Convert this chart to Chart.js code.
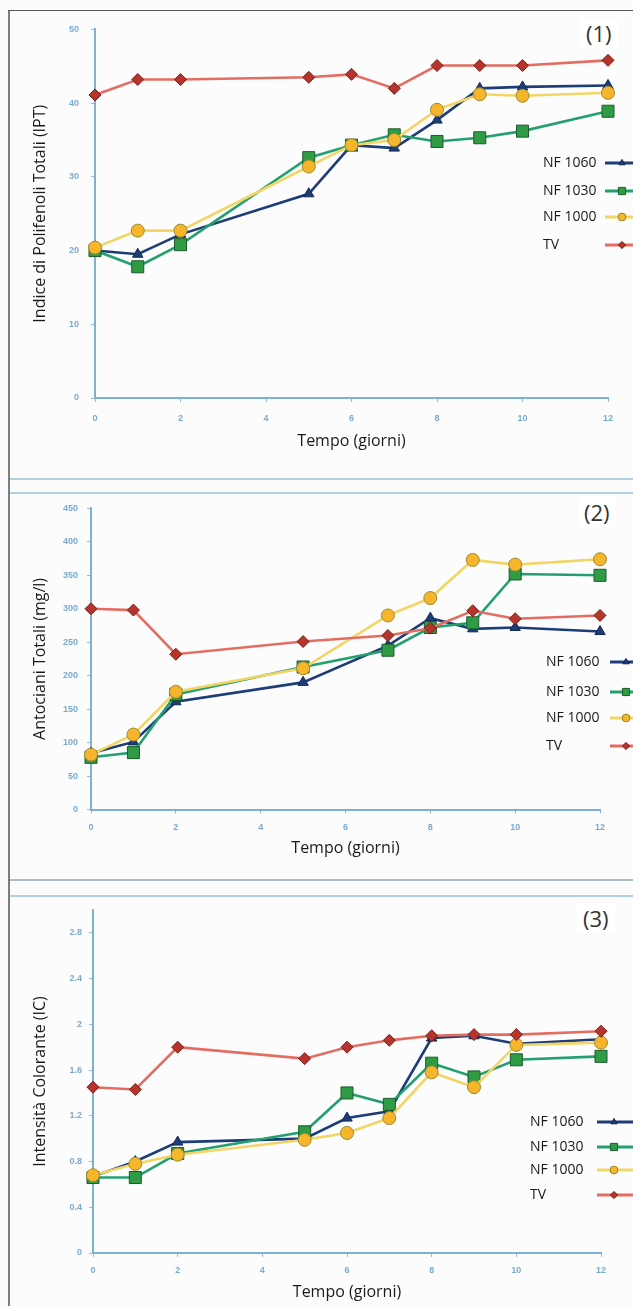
<!DOCTYPE html>
<html>
<head>
<meta charset="utf-8">
<script src="https://cdn.jsdelivr.net/npm/chart.js@4.4.1/dist/chart.umd.min.js"></script>
<style>
  body { margin: 0; background: #fcfcfd; width: 633px; height: 1306px; overflow: hidden; position: relative; font-family: "Open Sans", sans-serif; }
  canvas { position: absolute; left: 0; }
  .line { position: absolute; }
  .tag { position: absolute; font-size: 22px; color: #333; background: #fff; padding: 0 6px; line-height: 30px; }
</style>
</head>
<body>
<div class="line" style="left:8px;top:10px;width:2px;height:1296px;background:#7d7d7d"></div>
<div class="line" style="left:8px;top:10px;width:625px;height:1px;background:#555"></div>
<div class="line" style="left:10px;top:478px;width:623px;height:2px;background:#b3cfe0"></div>
<div class="line" style="left:10px;top:492px;width:623px;height:2px;background:#b3cfe0"></div>
<div class="line" style="left:10px;top:879px;width:623px;height:2px;background:#a9bcc8"></div>
<div class="line" style="left:10px;top:895px;width:623px;height:2px;background:#b3cfe0"></div>

<canvas id="c1" width="633" height="466" style="top:12px"></canvas>
<canvas id="c2" width="633" height="386" style="top:494px"></canvas>
<canvas id="c3" width="633" height="409" style="top:897px"></canvas>

<div class="tag" style="left:580px;top:18px">(1)</div>
<div class="tag" style="left:578px;top:497px">(2)</div>
<div class="tag" style="left:577px;top:903px">(3)</div>

<script>
// sampling days
const days = [0, 1, 2, 5, 6, 7, 8, 9, 10, 12];
const daysAnt = [0, 1, 2, 5, 7, 8, 9, 10, 12];
const seriesLabels = ['NF 1060', 'NF 1030', 'NF 1000', 'TV'];

// (1) Indice di Polifenoli Totali
const iptNF1060 = [20.0, 19.5, 22.2, 27.7, 34.3, 33.9, 37.7, 42.0, 42.2, 42.4];
const iptNF1030 = [20.0, 17.8, 20.8, 32.6, 34.3, 35.7, 34.8, 35.3, 36.2, 38.9];
const iptNF1000 = [20.4, 22.7, 22.7, 31.4, 34.3, 35.0, 39.1, 41.2, 41.0, 41.4];
const iptTV     = [41.1, 43.2, 43.2, 43.5, 43.9, 42.0, 45.1, 45.1, 45.1, 45.8];

// (2) Antociani Totali (mg/l)
const antNF1060 = [84, 101, 161, 190, 245, 286, 270, 272, 266];
const antNF1030 = [78, 85, 172, 213, 238, 272, 279, 352, 350];
const antNF1000 = [82, 112, 176, 211, 290, 316, 373, 366, 374];
const antTV     = [300, 298, 232, 251, 260, 271, 297, 285, 290];

// (3) Intensita Colorante
const icNF1060 = [0.67, 0.80, 0.97, 1.00, 1.18, 1.24, 1.88, 1.90, 1.83, 1.87];
const icNF1030 = [0.66, 0.66, 0.87, 1.06, 1.40, 1.30, 1.66, 1.54, 1.69, 1.72];
const icNF1000 = [0.68, 0.78, 0.86, 0.99, 1.05, 1.18, 1.58, 1.45, 1.82, 1.84];
const icTV     = [1.45, 1.43, 1.80, 1.70, 1.80, 1.86, 1.90, 1.91, 1.91, 1.94];

const styles = [
  { line: '#1d3d78', fill: '#1d3d78', edge: '#13284f', shape: 'triangle', r: 6 },
  { line: '#23a06e', fill: '#2f9c45', edge: '#1c5a2c', shape: 'rect', r: 8.5 },
  { line: '#f3d565', fill: '#f6b52b', edge: '#9b8a2c', shape: 'circle', r: 6.5 },
  { line: '#e46d62', fill: '#b5342b', edge: '#7a1f1a', shape: 'rectRot', r: 6 }
];

function toPoints(xs, ys) {
  return xs.map((x, i) => ({ x: x, y: ys[i] }));
}

// legend drawn over the plot, text on the left and sample on the right
const sideLegend = {
  id: 'sideLegend',
  afterDraw(chart, args, opts) {
    const ctx = chart.ctx;
    ctx.save();
    chart.data.datasets.forEach((ds, i) => {
      const y = opts.ys[i];
      ctx.fillStyle = '#1a1a1a';
      ctx.font = '14px "Open Sans"';
      ctx.textBaseline = 'middle';
      ctx.fillText(ds.label, opts.x, y);
      ctx.strokeStyle = ds.borderColor;
      ctx.lineWidth = 3;
      ctx.beginPath();
      ctx.moveTo(opts.lineX, y);
      ctx.lineTo(640, y);
      ctx.stroke();
      ctx.fillStyle = ds.pointBackgroundColor;
      ctx.strokeStyle = ds.pointBorderColor;
      ctx.lineWidth = 1;
      Chart.helpers.drawPoint(ctx, { pointStyle: ds.pointStyle, radius: ds.pointRadius * 0.6, rotation: 0, borderWidth: 1 }, opts.markX, y);
    });
    ctx.restore();
  }
};

function makeChart(id, panel, xs, seriesData, y) {
  const canvas = document.getElementById(id);
  const h = canvas.height;
  const a = panel.area;
  const padTop = a.top - panel.top;
  const padBottom = 4;
  const yw = a.left - 10;
  const xh = h - padBottom - (a.bottom - panel.top);
  const titleSize = 16, lh = titleSize * 1.2;

  const datasets = seriesData.map((vals, i) => ({
    label: seriesLabels[i],
    data: toPoints(xs, vals),
    borderColor: styles[i].line,
    borderWidth: 2.6,
    pointBackgroundColor: styles[i].fill,
    pointBorderColor: styles[i].edge,
    pointBorderWidth: 1,
    pointStyle: styles[i].shape,
    pointRadius: styles[i].r,
    clip: false,
    order: 3 - i
  }));

  const tickColor = '#7baad0';
  return new Chart(canvas, {
    type: 'line',
    data: { datasets: datasets },
    options: {
      responsive: false,
      animation: false,
      layout: { padding: { left: 10, right: 633 - a.right, top: padTop, bottom: padBottom } },
      plugins: {
        legend: { display: false },
        tooltip: { enabled: false },
        sideLegend: panel.legend
      },
      scales: {
        x: {
          type: 'linear', min: 0, max: 12,
          ticks: { stepSize: 2, color: tickColor, padding: panel.xTickPad, font: { family: 'Liberation Sans', size: 9, weight: 'bold' } },
          grid: { drawOnChartArea: false, drawTicks: true, tickLength: 4, color: '#8fbadb' },
          border: { color: '#7fb0d6', width: 2 },
          title: {
            display: true, text: 'Tempo (giorni)', color: '#1a1a1a',
            font: { family: 'Open Sans', size: titleSize },
            padding: { top: 0, bottom: (h - padBottom) - (panel.xTitleY - panel.top) - lh / 2 }
          },
          afterFit: s => { s.height = xh; }
        },
        y: {
          min: 0, max: y.max,
          ticks: {
            stepSize: y.step, color: tickColor, padding: panel.yTickPad,
            font: { family: 'Liberation Sans', size: 9, weight: 'bold' },
            callback: v => String(Number(v.toFixed(1)))
          },
          afterBuildTicks: s => {
            s.ticks = s.ticks.filter(t => Math.abs(t.value / y.step - Math.round(t.value / y.step)) < 1e-6);
          },
          grid: { drawOnChartArea: false, drawTicks: true, tickLength: 4, color: '#8fbadb' },
          border: { color: '#7fb0d6', width: 2 },
          title: {
            display: true, text: y.title, color: '#1a1a1a',
            font: { family: 'Open Sans', size: titleSize },
            padding: { top: 40 - 10 - lh / 2, bottom: 0 }
          },
          afterFit: s => { s.width = yw; }
        }
      }
    },
    plugins: [sideLegend]
  });
}

makeChart('c1',
  { top: 12, area: { left: 95, right: 608, top: 25, bottom: 398 }, xTitleY: 441, xTickPad: 11, yTickPad: 12,
    legend: { x: 543, ys: [163 - 12, 191 - 12, 217 - 12, 245 - 12], lineX: 605, markX: 622 } },
  days, [iptNF1060, iptNF1030, iptNF1000, iptTV],
  { max: 50, step: 10, title: 'Indice di Polifenoli Totali (IPT)' });

makeChart('c2',
  { top: 494, area: { left: 91, right: 600, top: 502, bottom: 809.5 }, xTitleY: 848, xTickPad: 9, yTickPad: 9,
    legend: { x: 546, ys: [662 - 494, 692 - 494, 718 - 494, 746 - 494], lineX: 610, markX: 626 } },
  daysAnt, [antNF1060, antNF1030, antNF1000, antTV],
  { max: 450, step: 50, title: 'Antociani Totali (mg/l)' });

makeChart('c3',
  { top: 897, area: { left: 93, right: 601, top: 910, bottom: 1253 }, xTitleY: 1292, xTickPad: 8, yTickPad: 7,
    legend: { x: 530, ys: [1122 - 897, 1147 - 897, 1170 - 897, 1195 - 897], lineX: 597, markX: 614 } },
  days, [icNF1060, icNF1030, icNF1000, icTV],
  { max: 3, step: 0.4, title: 'Intensità Colorante (IC)' });
</script>
</body>
</html>
